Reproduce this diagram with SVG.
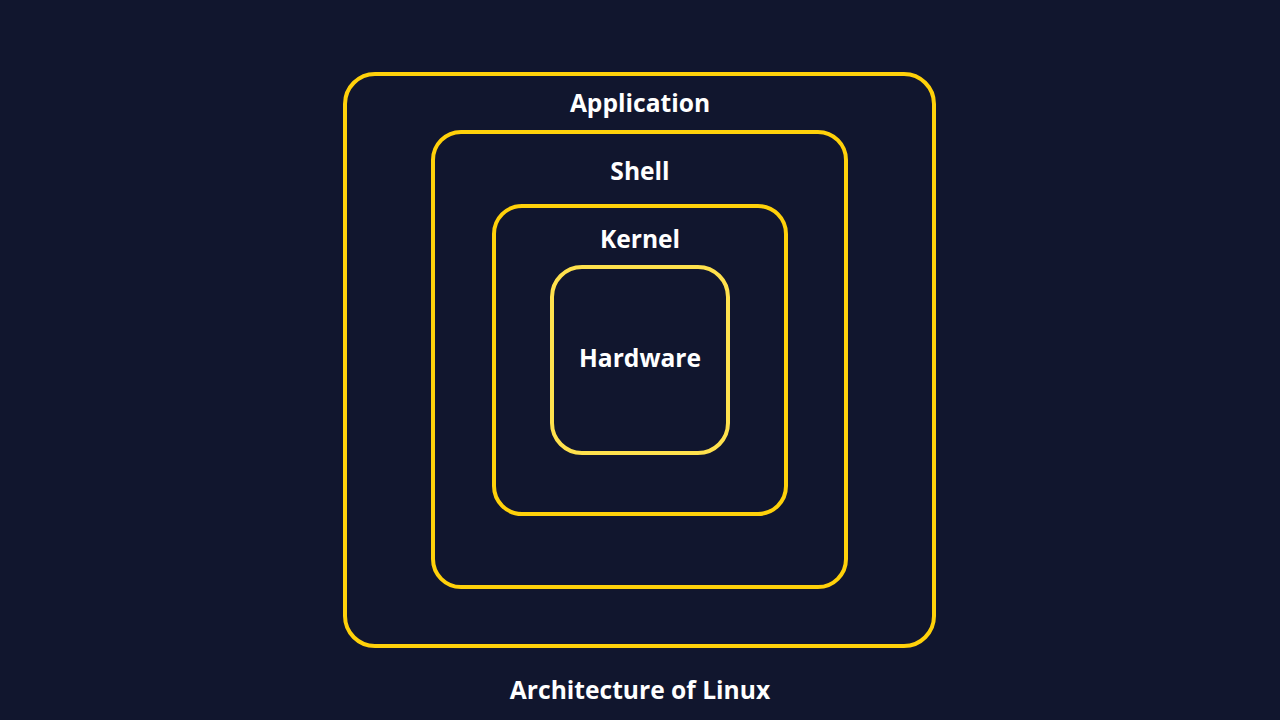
<svg xmlns="http://www.w3.org/2000/svg" width="1280" height="720" viewBox="0 0 1280 720">
<style>
.box{fill:none;stroke:#FFD10A;stroke-width:4}
.hw{fill:none;stroke:#FFE14D;stroke-width:4}
.lbl{font-family:"Open Sans","Liberation Sans",sans-serif;font-weight:700;font-size:24.6px;fill:#FFFFFF;text-anchor:middle}
</style>
<rect width="1280" height="720" fill="#11162E"/>
<g id="application">
<rect class="box" x="345" y="74" width="589" height="572" rx="30"/>
<text class="lbl" x="640" y="112">Application</text>
</g>
<g id="shell">
<rect class="box" x="433" y="132" width="413" height="455" rx="28"/>
<text class="lbl" x="640" y="180">Shell</text>
</g>
<g id="kernel">
<rect class="box" x="494" y="206" width="292" height="308" rx="28"/>
<text class="lbl" x="640" y="248">Kernel</text>
</g>
<g id="hardware">
<rect class="hw" x="552" y="267" width="176" height="186" rx="30"/>
<text class="lbl" x="640" y="367">Hardware</text>
</g>
<g id="connectors"/>
<text class="lbl" x="640" y="699">Architecture of Linux</text>
</svg>
